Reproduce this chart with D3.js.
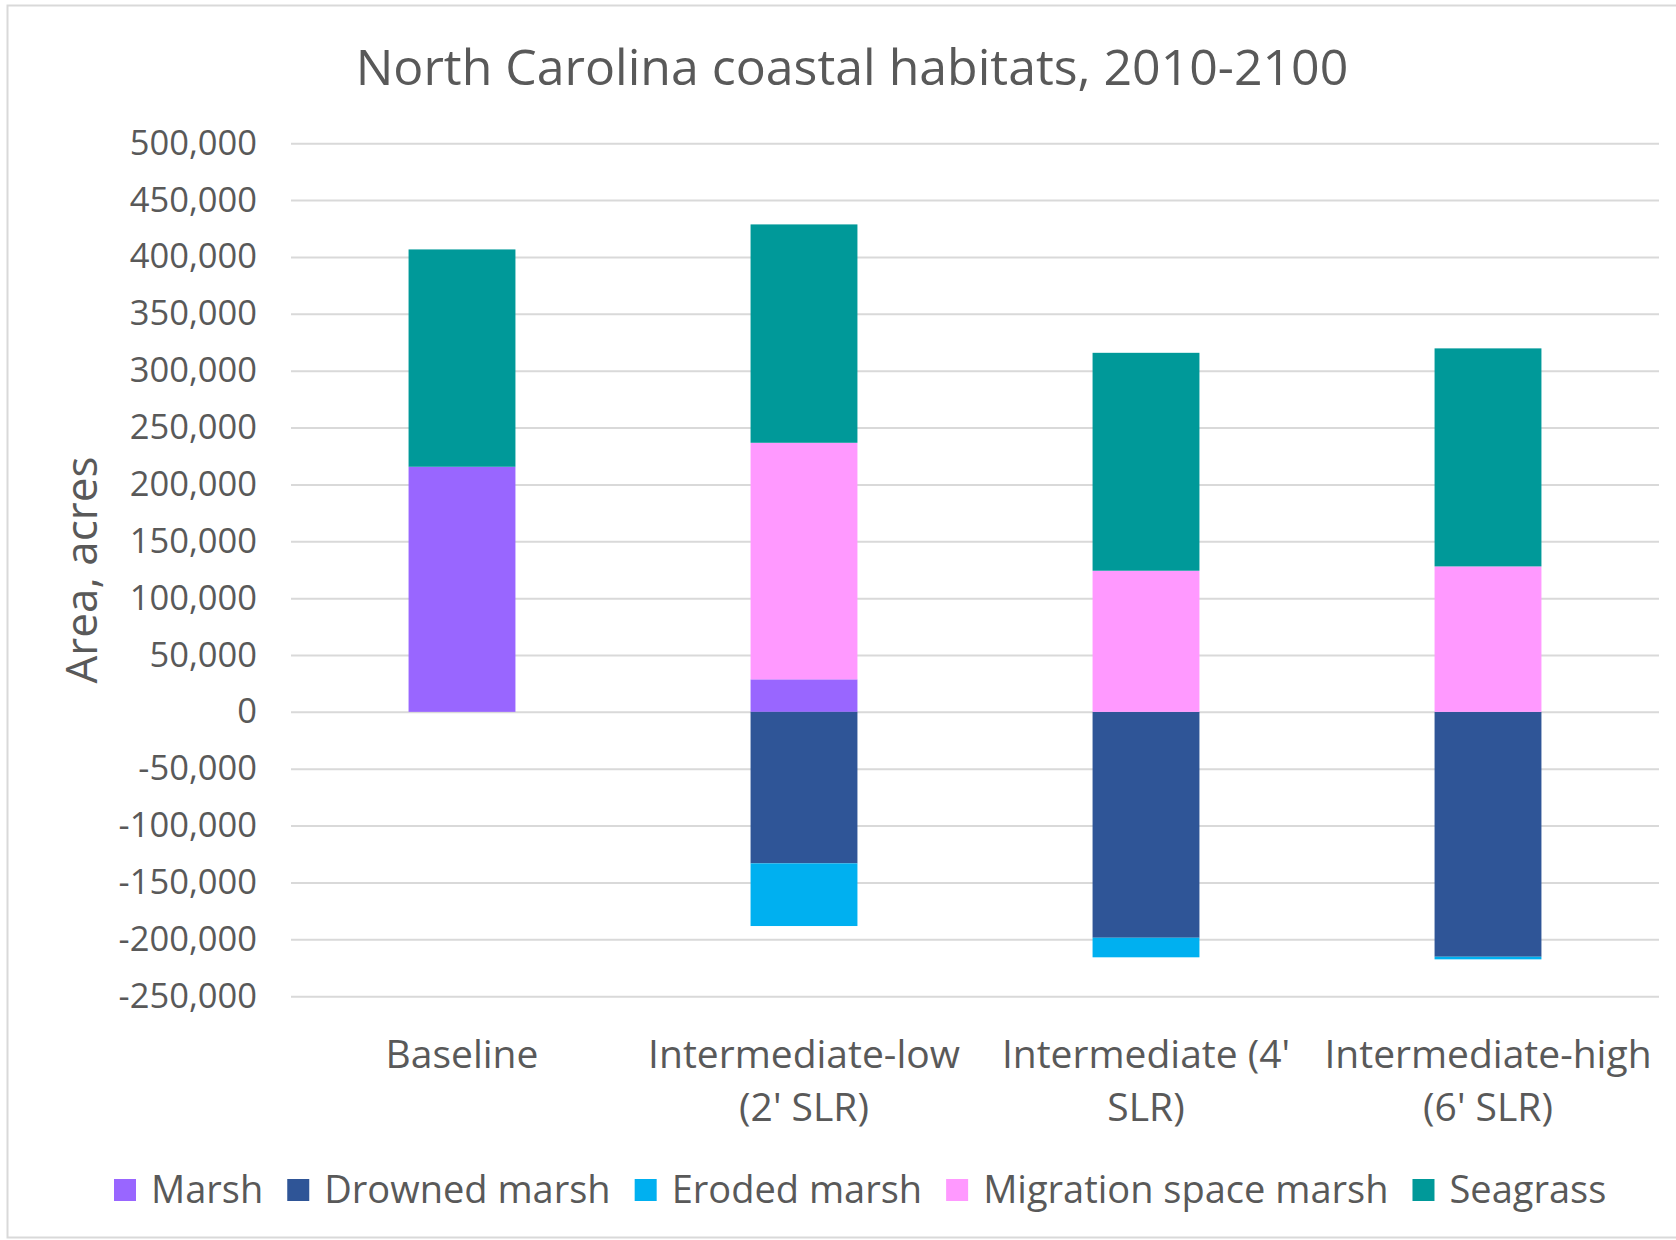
<!DOCTYPE html>
<html>
<head>
<meta charset="utf-8">
<script src="https://cdn.jsdelivr.net/npm/d3@7"></script>
<style>
  body { margin: 0; background: #fff; }
  text { font-family: "Open Sans", sans-serif; fill: #595959; }
</style>
</head>
<body>
<div id="chart"></div>
<script>
const width = 1676, height = 1240;

// data (acres)
const categories = ["Baseline", "Intermediate-low (2' SLR)", "Intermediate (4' SLR)", "Intermediate-high (6' SLR)"];
const categoryLines = [["Baseline"], ["Intermediate-low", "(2' SLR)"], ["Intermediate (4'", "SLR)"], ["Intermediate-high", "(6' SLR)"]];
const seriesNames = ["Marsh", "Drowned marsh", "Eroded marsh", "Migration space marsh", "Seagrass"];
const seriesColors = ["#9966ff", "#2f5597", "#00b0f0", "#ff99ff", "#009999"];
const marsh     = [215500, 28600, 0, 0];
const drowned   = [0, -133200, -198600, -215300];
const eroded    = [0, -55100, -17200, -2300];
const migration = [0, 208000, 124100, 127900];
const seagrass  = [191100, 192000, 191600, 191700];
const yTicks = d3.range(-250000, 500001, 50000);

const plot = { left: 291, right: 1659, top: 143.2, bottom: 996.2 };

const svg = d3.select("#chart").append("svg")
  .attr("width", width)
  .attr("height", height);

// outer border of the chart area
svg.append("rect")
  .attr("x", 7.5).attr("y", 5.5)
  .attr("width", width + 20).attr("height", 1232)
  .attr("fill", "none")
  .attr("stroke", "#d9d9d9")
  .attr("stroke-width", 2);

const rows = categories.map((c, i) => ({
  category: c,
  "Marsh": marsh[i],
  "Drowned marsh": drowned[i],
  "Eroded marsh": eroded[i],
  "Migration space marsh": migration[i],
  "Seagrass": seagrass[i]
}));

const stack = d3.stack()
  .keys(seriesNames)
  .offset(d3.stackOffsetDiverging);
const layers = stack(rows);

const x = d3.scaleBand()
  .domain(categories)
  .range([plot.left, plot.right])
  .paddingInner(0.6875)
  .paddingOuter(0.34375);

const y = d3.scaleLinear()
  .domain([-250000, 500000])
  .range([plot.bottom, plot.top]);

const color = d3.scaleOrdinal().domain(seriesNames).range(seriesColors);
const fmt = d => d3.format(",")(d).replace("\u2212", "-");

// GRID + Y AXIS
const yAxis = svg.append("g")
  .attr("transform", `translate(${plot.left},0)`)
  .call(d3.axisLeft(y).tickValues(yTicks).tickFormat(fmt)
    .tickSize(-(plot.right - plot.left)).tickPadding(34));

yAxis.select(".domain").remove();
yAxis.selectAll(".tick line")
  .attr("stroke", "#d9d9d9")
  .attr("stroke-width", 2);
yAxis.selectAll(".tick text")
  .style("font-family", "'Open Sans', sans-serif")
  .style("font-size", "34.5px")
  .attr("fill", "#595959");

// BARS
svg.append("g").selectAll("g")
  .data(layers)
  .join("g")
  .attr("fill", d => color(d.key))
  .selectAll("rect")
  .data(d => d)
  .join("rect")
  .attr("x", d => x(d.data.category))
  .attr("width", x.bandwidth())
  .attr("y", d => y(Math.max(d[0], d[1])))
  .attr("height", d => Math.abs(y(d[0]) - y(d[1])));

// CATEGORY LABELS
const catG = svg.append("g");
categories.forEach((c, i) => {
  const t = catG.append("text")
    .attr("x", x(c) + x.bandwidth() / 2)
    .attr("y", 1068)
    .attr("text-anchor", "middle")
    .style("font-size", "39px");
  categoryLines[i].forEach((line, j) => {
    t.append("tspan")
      .attr("x", x(c) + x.bandwidth() / 2)
      .attr("dy", j === 0 ? 0 : 53)
      .text(line);
  });
});

// TITLE
svg.append("text")
  .attr("x", 852)
  .attr("y", 85)
  .attr("text-anchor", "middle")
  .style("font-size", "50px")
  .text("North Carolina coastal habitats, 2010-2100");

// Y AXIS TITLE
svg.append("text")
  .attr("transform", `translate(97,570) rotate(-90)`)
  .attr("text-anchor", "middle")
  .style("font-size", "44px")
  .text("Area, acres");

// LEGEND
const legend = svg.append("g").attr("transform", "translate(114,1190)");
let lx = 0;
seriesNames.forEach(name => {
  const item = legend.append("g").attr("transform", `translate(${lx},0)`);
  item.append("rect")
    .attr("x", 0).attr("y", -11)
    .attr("width", 22).attr("height", 22)
    .attr("fill", color(name));
  const t = item.append("text")
    .attr("x", 37)
    .attr("y", 0)
    .attr("dy", "0.35em")
    .style("font-size", "38px")
    .text(name);
  lx += 37 + t.node().getComputedTextLength() + 24;
});
</script>
</body>
</html>
